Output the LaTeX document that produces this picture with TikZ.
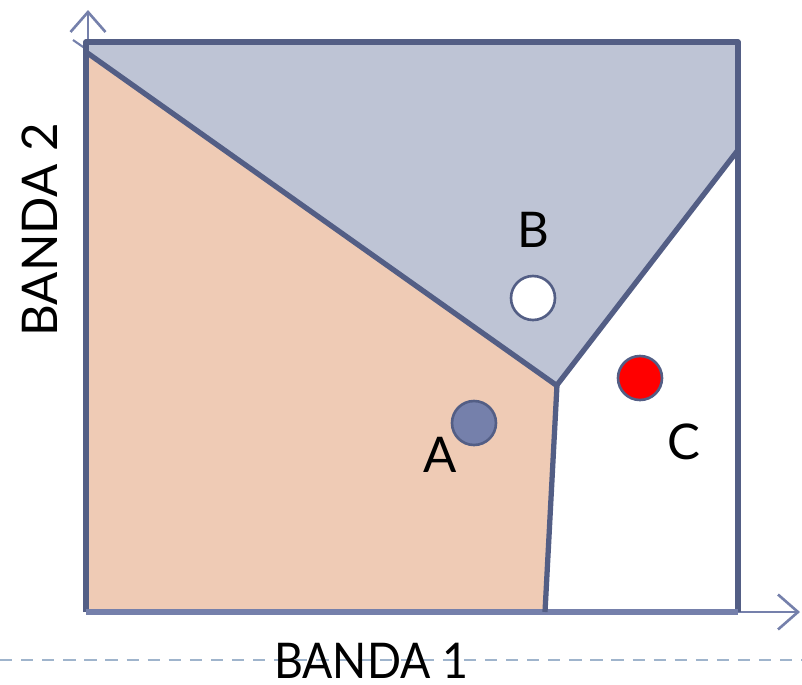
\documentclass[tikz,border=0pt]{standalone}
\usepackage{fontspec}
\setmainfont{Lato}
\usepackage{tikz}
\usetikzlibrary{positioning, arrows.meta}
\definecolor{regionblue}{HTML}{BEC4D5}
\definecolor{regionorange}{HTML}{EFCBB5}
\definecolor{edgedark}{HTML}{535E85}
\definecolor{axisblue}{HTML}{7580AB}
\definecolor{dashblue}{HTML}{9FB4CC}
\begin{document}
\begin{tikzpicture}[x=0.02cm, y=-0.02cm, >={Straight Barb[length=4mm, width=7mm]},
    point/.style={circle, draw=edgedark, line width=1.5pt, minimum size=0.88cm, inner sep=0pt},
    lbl/.style={font=\fontsize{28}{30}\selectfont, inner sep=0pt}]
                \useasboundingbox (0,0) rectangle (802,684);
                % axes
                \draw[dashblue, line width=1.2pt, dash pattern=on 7pt off 5pt] (0,660) -- (802,660);
                \draw[->, axisblue, line width=1.5pt] (88,612) -- (88,10);
                \draw[->, axisblue, line width=1.5pt] (88,612) -- (800,612);
                \draw[axisblue, line width=1.2pt] (73,40) -- (86,49);
                % regions
                \fill[regionblue] (86,42) -- (738,42) -- (738,150) -- (558,385) -- (86,50) -- cycle;
                \fill[regionorange] (86,55) -- (555,385) -- (545,612) -- (86,612) -- cycle;
                \draw[edgedark, line width=3pt, line join=round] (86,612) -- (86,42) -- (738,42) -- (738,612);
                \draw[axisblue, line width=3pt] (86,612) -- (738,612);
                \draw[edgedark, line width=3pt] (86,52) -- (556,385);
                \draw[edgedark, line width=3pt] (738,150) -- (557,385) -- (545,612);
                % classes
                \node[point, fill=white] (b) at (533,298) {};
                \node[point, fill=axisblue] (a) at (474,423) {};
                \node[point, fill=red] (c) at (640,378) {};
                \node[lbl] (lb) at (533,230) {B};
                \node[lbl] (la) at (440,455) {A};
                \node[lbl] (lc) at (684,442) {C};
                \node[lbl, xscale=0.91] (xlab) at (371,661) {BANDA 1};
                \node[lbl, rotate=90] (ylab) at (40,230) {BANDA 2};
            \end{tikzpicture}
\end{document}
